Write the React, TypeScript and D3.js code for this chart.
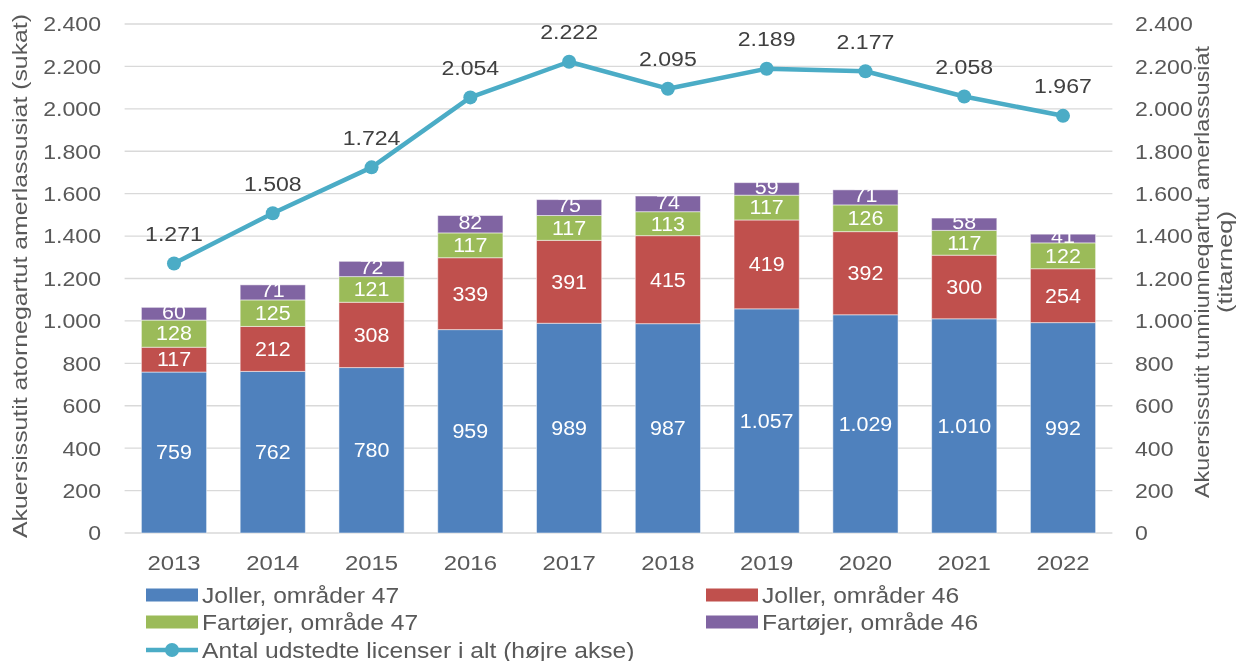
import * as d3 from 'd3';
import { useEffect, useRef } from 'react';

const years = ['2013', '2014', '2015', '2016', '2017', '2018', '2019', '2020', '2021', '2022'];
const jollerOmr47 = [759, 762, 780, 959, 989, 987, 1057, 1029, 1010, 992];
const jollerOmr46 = [117, 212, 308, 339, 391, 415, 419, 392, 300, 254];
const fartojerOmr47 = [128, 125, 121, 117, 117, 113, 117, 126, 117, 122];
const fartojerOmr46 = [60, 71, 72, 82, 75, 74, 59, 71, 58, 41];
const licenserIAlt = [1271, 1508, 1724, 2054, 2222, 2095, 2189, 2177, 2058, 1967];
const yTicks = [0, 200, 400, 600, 800, 1000, 1200, 1400, 1600, 1800, 2000, 2200, 2400];

const seriesNames = ['Joller, områder 47', 'Joller, områder 46', 'Fartøjer, område 47', 'Fartøjer, område 46'];
const seriesColors = ['#4F81BD', '#C0504D', '#9BBB59', '#8064A2'];
const lineName = 'Antal udstedte licenser i alt (højre akse)';
const lineColor = '#4BACC6';
const leftTitle = 'Akuersissutit atornegartut amerlassusiat (sukat)';
const rightTitle = ['Akuersissutit tunniunneqartut amerlassusiat', '(titarneq)'];

function App() {
    const ref = useRef(null);

    useEffect(() => {
        const width = 1243, height = 661;
        const font = 'Liberation Sans, Arial, sans-serif';
        const sx = 1.1; // text in the original is slightly wide
        const svg = d3.select(ref.current)
            .append('svg')
            .attr('width', width)
            .attr('height', height)
            .style('display', 'block')
            .style('font-family', font);

        const fmt = d3.formatLocale({ decimal: ',', thousands: '.', grouping: [3], currency: ['', ''] }).format(',d');

        // draws wide text anchored at (x, y)
        const label = (g: any, data: any[], px: (d: any, i: number) => number, py: (d: any, i: number) => number,
            txt: (d: any) => string, anchor: string, size: number, color: string, scaleX = sx) => {
            g.selectAll('g')
                .data(data)
                .join('g')
                .attr('transform', (d: any, i: number) => `translate(${px(d, i)},${py(d, i)}) scale(${scaleX},1)`)
                .append('text')
                .attr('dy', '0.35em')
                .attr('text-anchor', anchor)
                .attr('font-size', size)
                .attr('fill', color)
                .text(txt);
        };

        const x = d3.scaleBand().domain(years).range([124.6, 1112.4]).paddingInner(0.34).paddingOuter(0.17);
        const y = d3.scaleLinear().domain([0, 2400]).range([533, 24]);

        // gridlines
        svg.append('g')
            .selectAll('line')
            .data(yTicks)
            .join('line')
            .attr('x1', 124.6).attr('x2', 1112.4)
            .attr('y1', d => y(d)).attr('y2', d => y(d))
            .attr('stroke', '#D9D9D9').attr('stroke-width', 1.3);

        // axes ticks
        label(svg.append('g'), yTicks, () => 101, d => y(d), d => fmt(d), 'end', 21, '#595959');
        label(svg.append('g'), yTicks, () => 1135, d => y(d), d => fmt(d), 'start', 21, '#595959');
        label(svg.append('g'), years, d => (x(d) as number) + x.bandwidth() / 2, () => 563, d => d, 'middle', 21, '#595959', 1.14);

        // axis titles
        svg.append('text')
            .attr('transform', 'translate(27,276) rotate(-90)')
            .attr('text-anchor', 'middle')
            .attr('font-size', 21).attr('fill', '#595959')
            .attr('textLength', 524).attr('lengthAdjust', 'spacingAndGlyphs')
            .text(leftTitle);

        svg.append('text')
            .attr('transform', 'translate(1209,272) rotate(-90)')
            .attr('text-anchor', 'middle')
            .attr('font-size', 21).attr('fill', '#595959')
            .attr('textLength', 452).attr('lengthAdjust', 'spacingAndGlyphs')
            .text(rightTitle[0]);
        svg.append('text')
            .attr('transform', 'translate(1232,262) rotate(-90)')
            .attr('text-anchor', 'middle')
            .attr('font-size', 21).attr('fill', '#595959')
            .attr('textLength', 102).attr('lengthAdjust', 'spacingAndGlyphs')
            .text(rightTitle[1]);

        // stacked bars
        const rows = years.map((yr, i) => ({
            year: yr,
            s0: jollerOmr47[i], s1: jollerOmr46[i], s2: fartojerOmr47[i], s3: fartojerOmr46[i]
        }));
        const stack = d3.stack<any>().keys(['s0', 's1', 's2', 's3'])(rows);

        stack.forEach((layer, li) => {
            svg.append('g')
                .selectAll('rect')
                .data(layer)
                .join('rect')
                .attr('x', d => x(d.data.year) as number)
                .attr('width', x.bandwidth())
                .attr('y', d => y(d[1]))
                .attr('height', d => y(d[0]) - y(d[1]))
                .attr('fill', seriesColors[li])
                .attr('stroke', '#ffffff')
                .attr('stroke-opacity', 0.5)
                .attr('stroke-width', 1);
        });
        stack.forEach(layer => {
            label(svg.append('g'), layer,
                d => (x(d.data.year) as number) + x.bandwidth() / 2,
                d => (y(d[0]) + y(d[1])) / 2 - (layer.key === 's3' ? 2 : 0),
                d => fmt(d[1] - d[0]), 'middle', 19.5, '#ffffff');
        });

        // line
        const cx = (i: number) => (x(years[i]) as number) + x.bandwidth() / 2;
        const line = d3.line<number>()
            .x((_, i) => cx(i))
            .y(d => y(d));

        svg.append('path')
            .datum(licenserIAlt)
            .attr('fill', 'none')
            .attr('stroke', lineColor)
            .attr('stroke-width', 4.5)
            .attr('stroke-linejoin', 'round')
            .attr('d', line);

        svg.append('g')
            .selectAll('circle')
            .data(licenserIAlt)
            .join('circle')
            .attr('cx', (_, i) => cx(i))
            .attr('cy', d => y(d))
            .attr('r', 7)
            .attr('fill', lineColor);

        label(svg.append('g'), licenserIAlt, (_, i) => cx(i), d => y(d) - 30, d => fmt(d), 'middle', 21, '#404040');

        // legend
        const legendItems = [
            { name: seriesNames[0], color: seriesColors[0], x: 146, y: 595 },
            { name: seriesNames[1], color: seriesColors[1], x: 706, y: 595 },
            { name: seriesNames[2], color: seriesColors[2], x: 146, y: 622 },
            { name: seriesNames[3], color: seriesColors[3], x: 706, y: 622 },
        ];
        const lg = svg.append('g');
        legendItems.forEach(it => {
            lg.append('rect')
                .attr('x', it.x).attr('y', it.y - 6.5)
                .attr('width', 52).attr('height', 13)
                .attr('fill', it.color);
        });
        label(lg.append('g'), legendItems, d => d.x + 56, d => d.y, d => d.name, 'start', 22, '#595959', 1.12);
        lg.append('line')
            .attr('x1', 146).attr('x2', 198)
            .attr('y1', 650).attr('y2', 650)
            .attr('stroke', lineColor).attr('stroke-width', 4.5);
        lg.append('circle')
            .attr('cx', 172).attr('cy', 650).attr('r', 7)
            .attr('fill', lineColor);
        label(lg.append('g'), [lineName], () => 202, () => 650, d => d, 'start', 22, '#595959', 1.12);

        return () => {
            svg.remove();
        };
    }, []);

    return (
        <div ref={ref} style={{ position: 'fixed', top: 0, left: 0 }} />
    );
}

export default App;
